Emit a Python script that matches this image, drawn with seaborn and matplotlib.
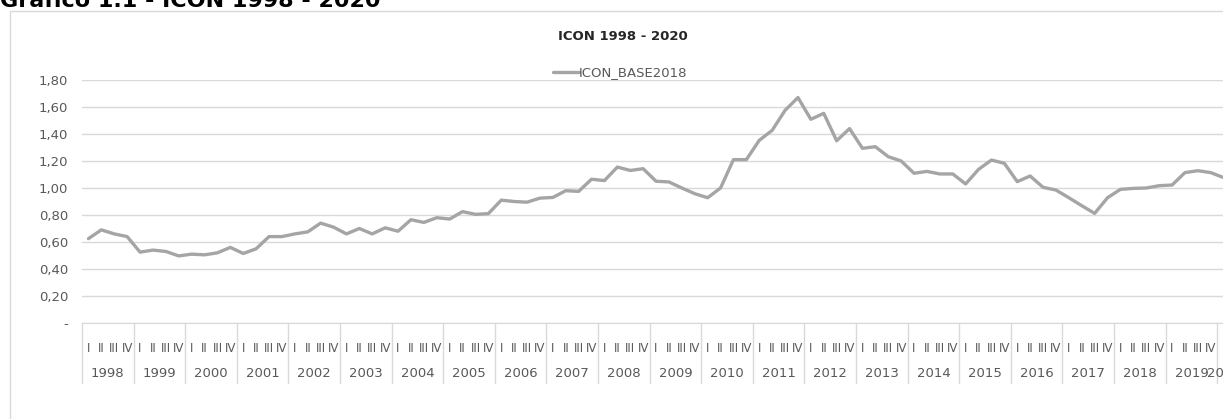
import matplotlib
matplotlib.use("Agg")
import matplotlib.pyplot as plt
import matplotlib.patches as patches
import matplotlib.transforms as mtransforms
from matplotlib import font_manager
import seaborn as sns
import numpy as np
import pandas as pd

# data (quarterly, 1998 I .. 2020 I)
years = list(range(1998, 2021))
quarters = ["I", "II", "III", "IV"]
icon_base2018 = [
    0.625, 0.69, 0.66, 0.64,
    0.525, 0.54, 0.53, 0.497,
    0.51, 0.505, 0.52, 0.56,
    0.515, 0.55, 0.64, 0.64,
    0.66, 0.675, 0.74, 0.71,
    0.66, 0.70, 0.66, 0.705,
    0.68, 0.765, 0.745, 0.78,
    0.77, 0.825, 0.805, 0.81,
    0.91, 0.90, 0.895, 0.925,
    0.93, 0.98, 0.975, 1.065,
    1.055, 1.155, 1.13, 1.143,
    1.05, 1.045, 1.0, 0.958,
    0.928, 1.0, 1.21, 1.21,
    1.353, 1.427, 1.575, 1.67,
    1.509, 1.553, 1.35, 1.44,
    1.294, 1.306, 1.232, 1.2,
    1.109, 1.123, 1.104, 1.104,
    1.03, 1.138, 1.207, 1.183,
    1.047, 1.089, 1.005, 0.985,
    0.928, 0.869, 0.812, 0.928,
    0.99, 0.997, 1.0, 1.017,
    1.022, 1.114, 1.128, 1.114,
    1.077,
]
y_ticks = [0, 0.2, 0.4, 0.6, 0.8, 1.0, 1.2, 1.4, 1.6, 1.8]

sns.set_style("white")
installed = {f.name for f in font_manager.fontManager.ttflist}
narrow = [f for f in ["Liberation Sans Narrow", "DejaVu Sans Condensed"] if f in installed]
plt.rcParams['font.family'] = narrow + ['DejaVu Sans']

W, H = 1223, 419
fig = plt.figure(figsize=(W / 100, H / 100), dpi=100)

n_slots = len(icon_base2018)
q_w = 12.9
left_px, axis_px, top_px = 82, 323, 80
ax = fig.add_axes([left_px / W, (H - axis_px) / H,
                   n_slots * q_w / W, (axis_px - top_px) / H])

df = pd.DataFrame({
    "pos": np.arange(n_slots) + 0.5,
    "ICON_BASE2018": icon_base2018,
})
sns.lineplot(data=df, x="pos", y="ICON_BASE2018", ax=ax, color="#a5a5a5",
             lw=2.4, label="ICON_BASE2018", clip_on=False)

ax.set_xlim(0, n_slots)
ax.set_ylim(0, 1.8)
ax.set_yticks(y_ticks)
ax.set_yticklabels(["-" if v == 0 else f"{v:.2f}".replace(".", ",") for v in y_ticks])
ax.grid(axis="y", color="#d9d9d9", lw=1)
ax.set_axisbelow(True)
for s in ["top", "right", "left"]:
    ax.spines[s].set_visible(False)
ax.spines["bottom"].set_color("#d9d9d9")
ax.set_xlabel("")
ax.set_ylabel("")

# quarter tick labels
q_labels = [quarters[i % 4] for i in range(n_slots)]
ax.set_xticks(df["pos"])
ax.set_xticklabels(q_labels)
ax.tick_params(axis="x", length=0, pad=14, labelsize=8.5, colors="#595959")
ax.tick_params(axis="y", length=0, pad=10, labelsize=9.5, colors="#595959")

# year labels and separators
trans = mtransforms.blended_transform_factory(ax.transData, ax.transAxes)
sep_h = 60 / (axis_px - top_px)
for k, yr in enumerate(years):
    start = k * 4
    end = min(start + 4, n_slots)
    ax.text((start + end) / 2, -50 / (axis_px - top_px), str(yr), transform=trans,
            ha="center", va="center", fontsize=9.5, color="#595959")
    ax.plot([start, start], [0, -sep_h], transform=trans, color="#d9d9d9",
            lw=1, clip_on=False)

leg = ax.legend(loc="center", bbox_to_anchor=(620 / W, (H - 73) / H),
                bbox_transform=fig.transFigure, frameon=False, fontsize=9.5,
                handlelength=2.0, handletextpad=0.0, borderpad=0)
for t in leg.get_texts():
    t.set_color("#595959")

fig.text(623 / W, (H - 37) / H, "ICON 1998 - 2020", ha="center", va="center",
         fontsize=9.5, fontweight="bold", color="#262626",
         family=["DejaVu Sans"])

# header cut at top of the picture
fig.text(0, (H - 7) / H, "Gráfico 1.1 - ICON 1998 - 2020", ha="left",
         va="baseline", fontsize=16, fontweight="bold", color="black",
         family=["DejaVu Sans"])

# chart frame
fig.patches.append(patches.Rectangle((10 / W, -0.1), 1.2, (H - 11) / H + 0.1,
                                     transform=fig.transFigure, fill=False,
                                     edgecolor="#d9d9d9", lw=1))

fig.savefig("out.png", dpi=100)
